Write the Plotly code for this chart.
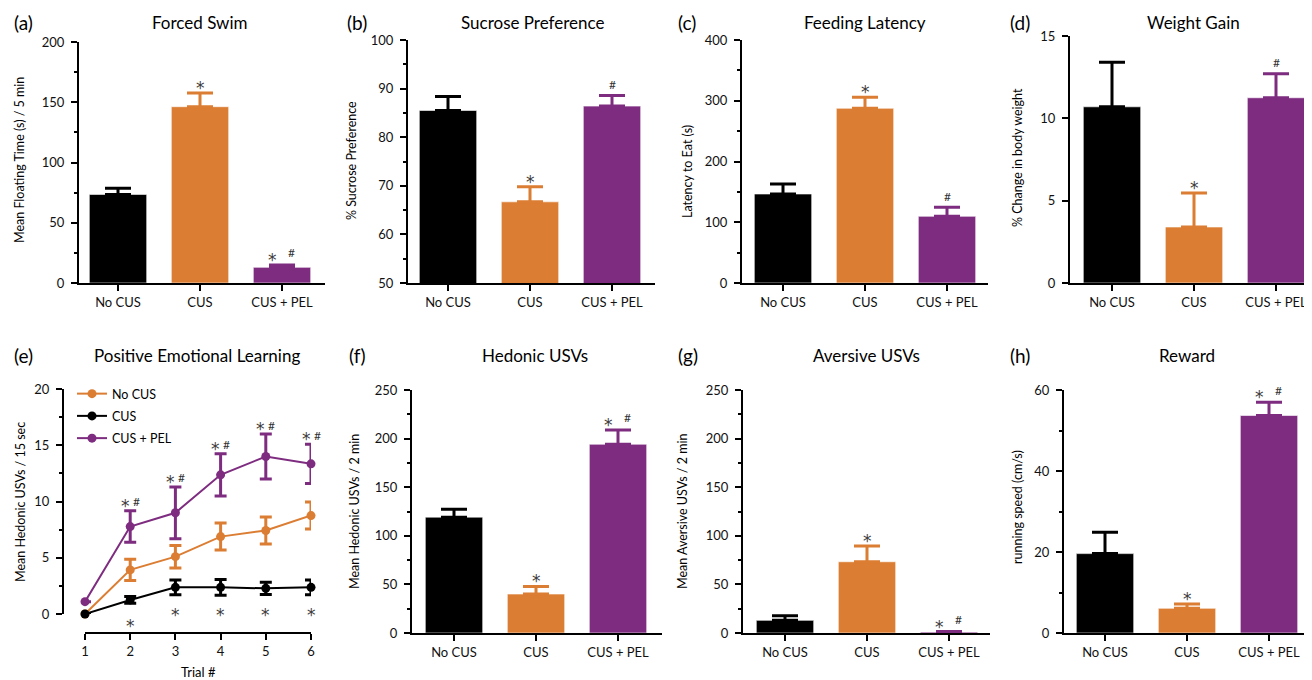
import plotly.graph_objects as go

# page body has an 8px margin: the figure is sized/offset so that it fills the 1312x680 window
OFF = 8
W, H = 1312 - OFF, 680 - OFF

# ---------------- data ----------------
categories = ["No CUS", "CUS", "CUS + PEL"]
bar_colors = ["#000000", "#DB7D32", "#7E2C80"]

forced_swim_mean = [73.5, 146.3, 13.0]
forced_swim_sem = [5.1, 11.4, 2.0]
sucrose_mean = [85.5, 66.7, 86.4]
sucrose_sem = [2.9, 3.1, 2.2]
feeding_mean = [146.5, 287.6, 109.8]
feeding_sem = [16.5, 18.1, 14.8]
weight_mean = [10.7, 3.4, 11.25]
weight_sem = [2.7, 2.07, 1.45]
hedonic_mean = [119.2, 40.1, 194.2]
hedonic_sem = [8.2, 7.8, 14.7]
aversive_mean = [13.0, 73.3, 1.0]
aversive_sem = [4.8, 16.1, 0.5]
reward_mean = [19.6, 6.1, 53.7]
reward_sem = [5.3, 1.05, 3.3]

sig_a = ["", "*", "*#"]
sig_b = ["", "*", "#"]
sig_c = ["", "*", "#"]
sig_d = ["", "*", "#"]
sig_f = ["", "*", "*#"]
sig_g = ["", "*", "*#"]
sig_h = ["", "*", "*#"]

trials = [1, 2, 3, 4, 5, 6]
nocus_mean = [0.0, 3.92, 5.1, 6.88, 7.42, 8.75]
nocus_sem = [0.0, 0.95, 1.0, 1.2, 1.2, 1.2]
cus_mean = [0.0, 1.25, 2.37, 2.37, 2.28, 2.37]
cus_sem = [0.0, 0.3, 0.65, 0.7, 0.55, 0.65]
pel_mean = [1.1, 7.77, 9.0, 12.37, 14.0, 13.35]
pel_sem = [0.0, 1.4, 2.3, 1.87, 2.0, 1.75]
pel_sig_trials = [2, 3, 4, 5, 6]
cus_sig_trials = [2, 3, 4, 5, 6]
cus_sig_y = [-0.85, 0.05, 0.05, 0.05, 0.05]

FONT = "Lato"
STAR_FONT = "DejaVu Sans"

def px(x):
    return (x - OFF) / W

def py(y):
    return 1 - (y - OFF) / H

fig = go.Figure()
annotations = []
layout_axes = {}

panels = [
    (1, "(a)", "Forced Swim", "Mean Floating Time (s) / 5 min", forced_swim_mean, forced_swim_sem, sig_a,
     79, 325, 118, 42, 283, [0, 200], 50, 25, 20, 160, 12, 200, 22),
    (2, "(b)", "Sucrose Preference", "% Sucrose Preference", sucrose_mean, sucrose_sem, sig_b,
     408, 655, 448, 40, 283, [50, 100], 10, 5, 352, 160, 345, 533, 22),
    (3, "(c)", "Feeding Latency", "Latency to Eat (s)", feeding_mean, feeding_sem, sig_c,
     742, 988, 783, 40, 283, [0, 400], 100, 50, 687, 172, 676, 865, 22),
    (4, "(d)", "Weight Gain", "% Change in body weight", weight_mean, weight_sem, sig_d,
     1070, 1311, 1112, 36, 283, [0, 15], 5, None, 1017, 158, 1008, 1193, 22),
    (6, "(f)", "Hedonic USVs", "Mean Hedonic USVs / 2 min", hedonic_mean, hedonic_sem, sig_f,
     412, 662, 454, 390, 633, [0, 250], 50, 25, 354, 512, 347, 535, 355),
    (7, "(g)", "Aversive USVs", "Mean Aversive USVs / 2 min", aversive_mean, aversive_sem, sig_g,
     743, 990, 785, 390, 633, [0, 250], 50, 25, 682, 512, 676, 866, 355),
    (8, "(h)", "Reward", "running speed (cm/s)", reward_mean, reward_sem, sig_h,
     1064, 1311, 1105, 390, 633, [0, 60], 20, 10, 1017, 507, 1008, 1187, 355),
]

SPACING = 82.0
BAR_W = 0.7

def ax_name(i, kind):
    return kind if i == 1 else f"{kind}{i}"

def star_ann(xref, yref, x, y, text, xshift, yshift):
    if text == "*":
        return dict(xref=xref, yref=yref, x=x, y=y, text="*", showarrow=False,
                    font=dict(family=STAR_FONT, size=17, color="#3c3c3c"),
                    xshift=xshift, yshift=yshift, yanchor="middle", xanchor="center")
    return dict(xref=xref, yref=yref, x=x, y=y, text="#", showarrow=False,
                font=dict(family=FONT, size=12, color="#333333"),
                xshift=xshift, yshift=yshift, yanchor="middle", xanchor="center")

for (i, letter, title, ytitle, mean, sem, sig, yx, xend, c0, top, bot, yr, dt, mdt,
     ytx, tyy, lx, ttx, tty) in panels:
    xa, ya = ax_name(i, "x"), ax_name(i, "y")
    x0 = -(c0 - yx) / SPACING
    x1 = x0 + (xend - yx) / SPACING
    fig.add_trace(go.Bar(
        x=list(range(len(categories))), y=mean,
        width=BAR_W,
        marker=dict(color=bar_colors, line=dict(color="rgba(255,255,255,0.6)", width=1)),
        xaxis=xa, yaxis=ya, showlegend=False,
    ))
    for k in range(len(categories)):
        fig.add_trace(go.Scatter(
            x=[k], y=[mean[k]], mode="markers", marker=dict(size=1, color="rgba(0,0,0,0)"),
            error_y=dict(type="data", array=[sem[k]], arrayminus=[0], symmetric=False,
                         color=bar_colors[k], thickness=3, width=13),
            xaxis=xa, yaxis=ya, showlegend=False, hoverinfo="skip", cliponaxis=False,
        ))
    layout_axes[ax_name(i, "xaxis")] = dict(
        domain=[px(yx), min(1, px(xend))], range=[x0, x1], anchor=ya, automargin=False,
        showline=True, linecolor="black", linewidth=2,
        ticks="outside", ticklen=6, tickwidth=2, tickcolor="black",
        tickvals=list(range(len(categories))), ticktext=categories,
        tickfont=dict(family=FONT, size=13, color="#111111"),
        showgrid=False, zeroline=False,
    )
    yd = dict(
        domain=[py(bot), py(top)], range=yr, anchor=xa, automargin=False,
        showline=True, linecolor="black", linewidth=2,
        ticks="outside", ticklen=6, tickwidth=2, tickcolor="black",
        tick0=yr[0], dtick=dt, ticklabelstandoff=4,
        tickfont=dict(family=FONT, size=13, color="#111111"),
        showgrid=False, zeroline=False,
    )
    if mdt:
        yd["minor"] = dict(ticks="outside", ticklen=3, tickwidth=1.5, tickcolor="black", dtick=mdt, tick0=yr[0])
    layout_axes[ax_name(i, "yaxis")] = yd
    annotations.append(dict(xref="paper", yref="paper", x=px(lx), y=py(tty), text=letter,
                            showarrow=False, xanchor="left", yanchor="middle",
                            font=dict(family=FONT, size=19, color="black")))
    annotations.append(dict(xref="paper", yref="paper", x=px(ttx), y=py(tty), text=title,
                            showarrow=False, xanchor="center", yanchor="middle",
                            font=dict(family=FONT, size=17, color="black")))
    annotations.append(dict(xref="paper", yref="paper", x=px(ytx), y=py(tyy), text=ytitle,
                            showarrow=False, textangle=-90, xanchor="center", yanchor="middle",
                            font=dict(family=FONT, size=12.5, color="black")))
    for k, s in enumerate(sig):
        capv = mean[k] + sem[k]
        if s == "*":
            annotations.append(star_ann(xa, ya, k, capv, "*", 0, 5))
        elif s == "#":
            annotations.append(star_ann(xa, ya, k, capv, "#", 0, 11))
        elif s == "*#":
            annotations.append(star_ann(xa, ya, k, capv, "*", -10, 5))
            annotations.append(star_ann(xa, ya, k, capv, "#", 9, 12))

# ---------------- panel (e) ----------------
e_top, e_bot = 389, 614
e_xl, e_xr = 85, 311
e_yaxis_x = 63
e_range = [0, 20]
e_px_per_unit = (e_bot - e_top) / (e_range[1] - e_range[0])
line_series = [
    ("No CUS", nocus_mean, nocus_sem, "#DB7D32"),
    ("CUS", cus_mean, cus_sem, "#000000"),
    ("CUS + PEL", pel_mean, pel_sem, "#7E2C80"),
]
for gi, (name, m, s, c) in enumerate(line_series):
    fig.add_trace(go.Scatter(
        x=trials, y=m, name=name, mode="lines+markers",
        line=dict(color=c, width=2), marker=dict(color=c, size=9),
        error_y=dict(type="data", array=s, color=c, thickness=3, width=6),
        xaxis="x5", yaxis="y5", cliponaxis=False, legendgroup=f"g{gi}",
    ))
layout_axes["xaxis5"] = dict(
    domain=[px(e_xl), px(e_xr)], range=[1, 6], anchor="free", position=py(633), automargin=False,
    showline=True, linecolor="black", linewidth=2,
    ticks="outside", ticklen=6, tickwidth=2, tickcolor="black",
    tickvals=trials, tickfont=dict(family=FONT, size=13, color="#111111"),
    showgrid=False, zeroline=False,
)
layout_axes["yaxis5"] = dict(
    domain=[py(e_bot), py(e_top)], range=e_range, anchor="free", position=px(e_yaxis_x), automargin=False,
    showline=True, linecolor="black", linewidth=2,
    ticks="outside", ticklen=6, tickwidth=2, tickcolor="black",
    tick0=0, dtick=5, ticklabelstandoff=4,
    minor=dict(ticks="outside", ticklen=3, tickwidth=1.5, tickcolor="black", dtick=2.5, tick0=0),
    tickfont=dict(family=FONT, size=13, color="#111111"),
    showgrid=False, zeroline=False,
)
annotations.append(dict(xref="paper", yref="paper", x=px(12), y=py(355), text="(e)",
                        showarrow=False, xanchor="left", yanchor="middle",
                        font=dict(family=FONT, size=19, color="black")))
annotations.append(dict(xref="paper", yref="paper", x=px(197), y=py(355), text="Positive Emotional Learning",
                        showarrow=False, xanchor="center", yanchor="middle",
                        font=dict(family=FONT, size=17, color="black")))
annotations.append(dict(xref="paper", yref="paper", x=px(20), y=py(502), text="Mean Hedonic USVs / 15 sec",
                        showarrow=False, textangle=-90, xanchor="center", yanchor="middle",
                        font=dict(family=FONT, size=12.5, color="black")))
annotations.append(dict(xref="paper", yref="paper", x=px(198), y=py(672), text="Trial #",
                        showarrow=False, xanchor="center", yanchor="middle",
                        font=dict(family=FONT, size=13, color="black")))
for t in pel_sig_trials:
    k = trials.index(t)
    capv = pel_mean[k] + pel_sem[k]
    annotations.append(star_ann("x5", "y5", t, capv, "*", -5, 5))
    annotations.append(star_ann("x5", "y5", t, capv, "#", 6, 9))
for t, yv in zip(cus_sig_trials, cus_sig_y):
    # values below the axis range are placed at 0 and shifted down in pixels (annotations outside range are hidden)
    base = max(yv, e_range[0])
    extra = (yv - base) * e_px_per_unit
    annotations.append(star_ann("x5", "y5", t, base, "*", 0, -2 + extra))

fig.update_layout(
    width=W, height=H,
    margin=dict(l=0, r=0, t=0, b=0, pad=0, autoexpand=False),
    plot_bgcolor="white", paper_bgcolor="white",
    font=dict(family=FONT, color="black"),
    annotations=annotations,
    showlegend=True,
    legend=dict(x=px(72), y=py(379), xanchor="left", yanchor="top",
                font=dict(family=FONT, size=12.5, color="black"),
                bgcolor="rgba(0,0,0,0)", tracegroupgap=3, itemwidth=30),
    **layout_axes,
)

fig.write_html("out.html")
